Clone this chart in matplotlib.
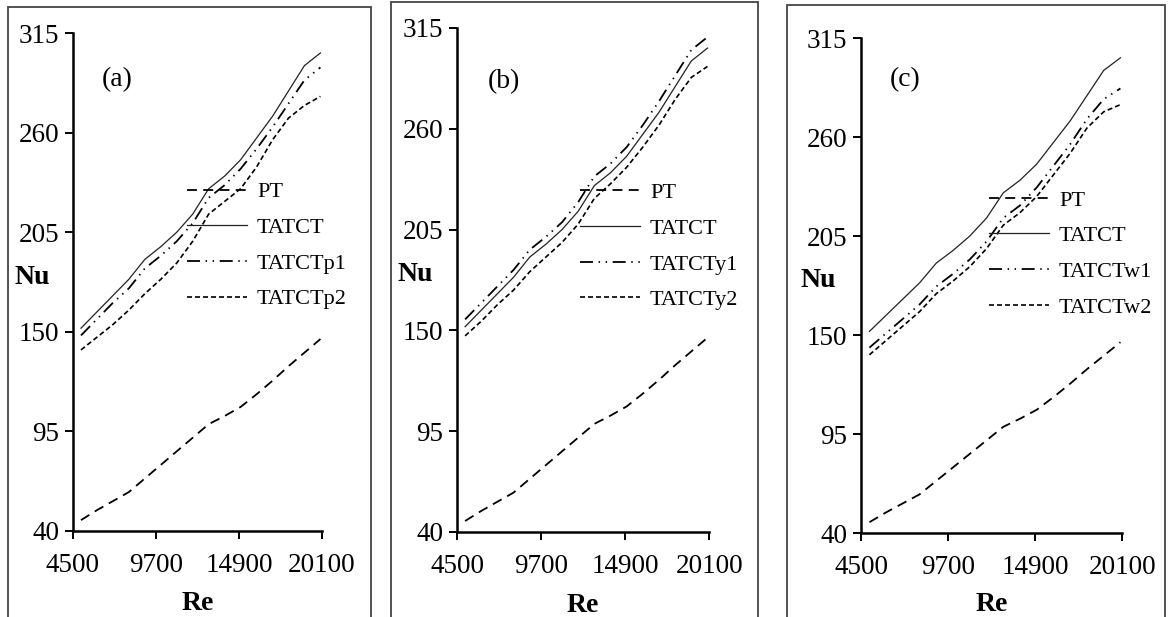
import numpy as np
import matplotlib
matplotlib.use('Agg')
import matplotlib.pyplot as plt
from matplotlib.patches import Rectangle

plt.rcParams['font.family'] = ['Liberation Serif', 'DejaVu Serif']

# --- dane ---
re = [5000, 6000, 7000, 8000, 9000, 10000, 11000, 12000,
      13000, 14000, 15000, 16000, 17000, 18000, 19000, 20000]

nu_pt = [46, 51.5, 56.5, 61.5, 69, 76.5, 84, 91.5,
         99, 103.5, 108.5, 115.5, 123, 131, 138.5, 146]
nu_tatct = [152, 161, 170, 179, 190, 197, 205, 215,
            229, 236, 245, 257, 269, 283, 297, 304]

nu_p1 = [148, 157, 166, 174, 185, 192, 200, 210,
         224, 231, 240, 251, 263, 276, 289, 296]
nu_p2 = [140, 147, 154, 162, 171, 179, 188, 200,
         215, 222, 229, 241, 256, 268, 275, 280]

nu_y1 = [156, 165, 174, 183, 194, 201, 209, 220,
         234, 241, 250, 262, 275, 289, 303, 310]
nu_y2 = [147, 155, 164, 172, 182, 190, 198, 208,
         222, 230, 239, 250, 262, 276, 288, 294]

nu_w1 = [143, 151, 159, 167, 177, 184, 192, 202,
         215, 222, 232, 244, 256, 270, 281, 287]
nu_w2 = [139, 147, 155, 163, 173, 180, 188, 198,
         211, 218, 227, 239, 251, 265, 274, 278]

x_ticks = [4500, 9700, 14900, 20100]
y_ticks = [40, 95, 150, 205, 260, 315]

panels = [
    ('(a)', 'TATCTp1', 'TATCTp2', nu_p1, nu_p2),
    ('(b)', 'TATCTy1', 'TATCTy2', nu_y1, nu_y2),
    ('(c)', 'TATCTw1', 'TATCTw2', nu_w1, nu_w2),
]

# --- uklad (wspolrzedne figury) ---
ax_pos = [
    [0.0625, 0.1394, 0.2132, 0.8071],
    [0.3913, 0.1378, 0.2158, 0.8169],
    [0.7372, 0.1361, 0.2235, 0.8023],
]
frames = [
    (0.0068, 0.3108, 0.9887),
    (0.3348, 0.3142, 0.9968),
    (0.6738, 0.3236, 0.9919),
]
label_pos = [(0.116, 0.906), (0.123, 0.893), (0.111, 0.915)]
leg_pos = [(0.458, 0.683), (0.488, 0.675), (0.49, 0.675)]

fig = plt.figure(figsize=(11.68, 6.17), dpi=100)

for i, (tag, n1, n2, s1, s2) in enumerate(panels):
    x0, w, top = frames[i]
    fig.patches.append(Rectangle((x0, -0.05), w, top + 0.05,
                                 transform=fig.transFigure, fill=False,
                                 edgecolor='#444444', linewidth=1.3))

    ax = fig.add_axes(ax_pos[i])
    ax.plot(re, nu_pt, color='black', lw=1.3, dashes=(5.5, 3.5), label='PT')
    ax.plot(re, nu_tatct, color='#222222', lw=0.9, label='TATCT')
    ax.plot(re, s1, color='black', lw=1.3,
            dashes=(7.2, 3.1, 0.8, 3.1, 0.8, 3.1), label=n1)
    ax.plot(re, s2, color='black', lw=1.2, dashes=(3, 1.8), label=n2)

    ax.set_xlim(4500, 20100)
    ax.set_ylim(40, 315)
    ax.set_xticks(x_ticks)
    ax.set_yticks(y_ticks)
    for side in ['top', 'right']:
        ax.spines[side].set_visible(False)
    for side in ['left', 'bottom']:
        ax.spines[side].set_linewidth(1.8)
    ax.tick_params(axis='both', direction='out', length=6, width=1.4,
                   labelsize=19.5, pad=4)
    ax.tick_params(axis='x', pad=10)

    ax.text(-0.165, 0.51, 'Nu', transform=ax.transAxes, fontsize=20,
            fontweight='bold', ha='center', va='center')
    ax.text(0.5, -0.145, 'Re', transform=ax.transAxes, fontsize=20,
            fontweight='bold', ha='center', va='center')
    ax.text(label_pos[i][0], label_pos[i][1], tag, transform=ax.transAxes,
            fontsize=20, ha='left', va='center')

    lx, ly = leg_pos[i]
    leg = ax.legend(loc='upper left', bbox_to_anchor=(lx, ly + 0.018),
                    frameon=False, fontsize=16, handlelength=2.7,
                    handletextpad=0.45, labelspacing=0.68,
                    borderpad=0, borderaxespad=0)

fig.savefig('out.png', dpi=100)
